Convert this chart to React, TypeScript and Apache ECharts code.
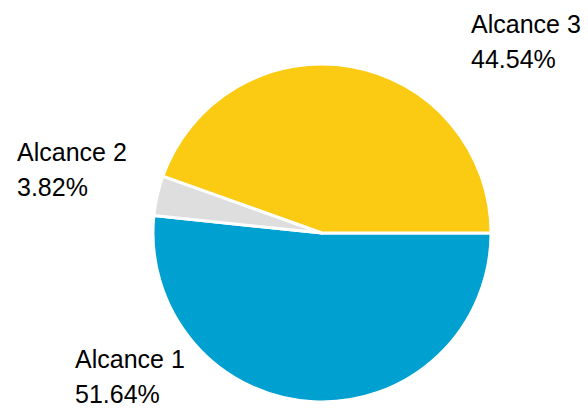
import React, { useEffect, useRef } from "react";
import * as echarts from "echarts";

const categories = ["Alcance 1", "Alcance 2", "Alcance 3"];
const values = [51.64, 3.82, 44.54];
const colors = ["#00A0D1", "#DEDEDE", "#FACB12"];
const labelPos = [
  { x: 75, y: 341 },
  { x: 17, y: 134 },
  { x: 471, y: 6 },
];

export default function App() {
  const ref = useRef<HTMLDivElement>(null);
  useEffect(() => {
    if (!ref.current) return;
    const chart = echarts.init(ref.current, undefined, { renderer: "svg" });
    chart.setOption({
      animation: false,
      backgroundColor: "#ffffff",
      series: [
        {
          type: "pie",
          center: [322, 233],
          radius: [0, 169],
          startAngle: 0,
          clockwise: true,
          itemStyle: { borderColor: "#ffffff", borderWidth: 3 },
          label: {
            show: true,
            formatter: "{b}\n{d}%",
            fontFamily: "Liberation Sans",
            fontSize: 25,
            lineHeight: 35,
            color: "#000000",
            align: "left",
            overflow: "none",
            width: 200,
          },
          labelLine: { show: false },
          labelLayout: (params: any) => ({
            x: labelPos[params.dataIndex].x,
            y: labelPos[params.dataIndex].y,
            align: "left",
            verticalAlign: "top",
          }),
          emphasis: { disabled: true },
          data: categories.map((c, i) => ({
            name: c,
            value: values[i],
            itemStyle: { color: colors[i] },
          })),
        },
      ],
    });
    return () => chart.dispose();
  }, []);
  return (
    <div
      ref={ref}
      style={{ position: "fixed", left: 0, top: 0, width: 588, height: 408 }}
    />
  );
}
